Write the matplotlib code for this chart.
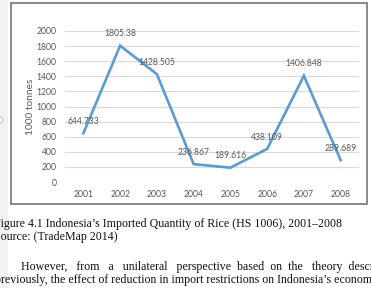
import matplotlib
matplotlib.use("Agg")
import matplotlib.pyplot as plt
from matplotlib.patches import Rectangle, Circle

# Data
years = ['2001', '2002', '2003', '2004', '2005', '2006', '2007', '2008']
quantity = [644.733, 1805.38, 1428.505, 236.867, 189.616, 438.109, 1406.848, 289.689]
labels = ['644.733', '1805.38', '1428.505', '236.867', '189.616', '438.109', '1406.848', '289.689']
yticks = [0, 200, 400, 600, 800, 1000, 1200, 1400, 1600, 1800, 2000]

W, H = 371, 288
fig = plt.figure(figsize=(W / 100, H / 100), dpi=100)
fig.patch.set_facecolor('white')

# page edge strip on the left
fig.patches.append(Rectangle((0, 0), 8 / W, 1, transform=fig.transFigure,
                             facecolor='#f2f2f2', edgecolor='none', zorder=0))
fig.patches.append(Circle((-2 / W, 1 - 120 / H), 5 / W, transform=fig.transFigure,
                          facecolor='none', edgecolor='#bbbbbb', lw=0.6, zorder=1))

# chart border
fig.patches.append(Rectangle((10.5 / W, 1 - 203.5 / H), 356 / W, 201 / H,
                             transform=fig.transFigure, facecolor='white',
                             edgecolor='#7f7f7f', lw=1.3, zorder=1))

ax = fig.add_axes([65 / W, 1 - 182 / H, 294 / W, 151 / H])
ax.set_zorder(2)
ax.patch.set_visible(False)

x = range(len(years))
ax.plot(x, quantity, color='#5b9bd5', lw=1.9, solid_joinstyle='miter', zorder=3)
for i, (v, t) in enumerate(zip(quantity, labels)):
    ax.annotate(t, (i, v), xytext=(0, 8.5), textcoords='offset points',
                ha='center', va='center', fontsize=6.2, color='#595959',
                family='Lato', zorder=4)

ax.set_xlim(-0.5, len(years) - 0.5)
ax.set_ylim(0, 2000)
ax.set_yticks(yticks)
ax.set_yticklabels([str(t) for t in yticks])
ax.set_xticks(list(x))
ax.set_xticklabels(years)
ax.tick_params(length=0, labelsize=6.2, labelcolor='#595959', pad=6)
for lab in ax.get_xticklabels() + ax.get_yticklabels():
    lab.set_family('Lato')
ax.grid(axis='y', color='#d9d9d9', lw=0.8)
ax.set_axisbelow(True)
for s in ax.spines.values():
    s.set_visible(False)
ax.set_ylabel('1000 tonnes', fontsize=7.3, color='#595959', family='Lato')
ax.yaxis.set_label_coords((35 - 65) / 294, 0.5)

# caption and body text from the page
serif = 'Liberation Serif'
fs = 8.6
fig.text(-6 / W, 1 - 224 / H, 'Figure 4.1 Indonesia\u2019s Imported Quantity of Rice (HS 1006), 2001\u20132008',
         fontsize=fs, family=serif, va='center', ha='left', color='#111111')
fig.text(-6 / W, 1 - 237 / H, 'Source: (TradeMap 2014)',
         fontsize=fs, family=serif, va='center', ha='left', color='#111111')
fig.text(21 / W, 1 - 267 / H,
         'However,   from   a   unilateral   perspective  based  on  the   theory  described',
         fontsize=fs, family=serif, va='center', ha='left', color='#111111')
fig.text(-5 / W, 1 - 280 / H,
         'previously, the effect of reduction in import restrictions on Indonesia\u2019s economy',
         fontsize=fs, family=serif, va='center', ha='left', color='#111111')

fig.savefig('out.png', dpi=100)
